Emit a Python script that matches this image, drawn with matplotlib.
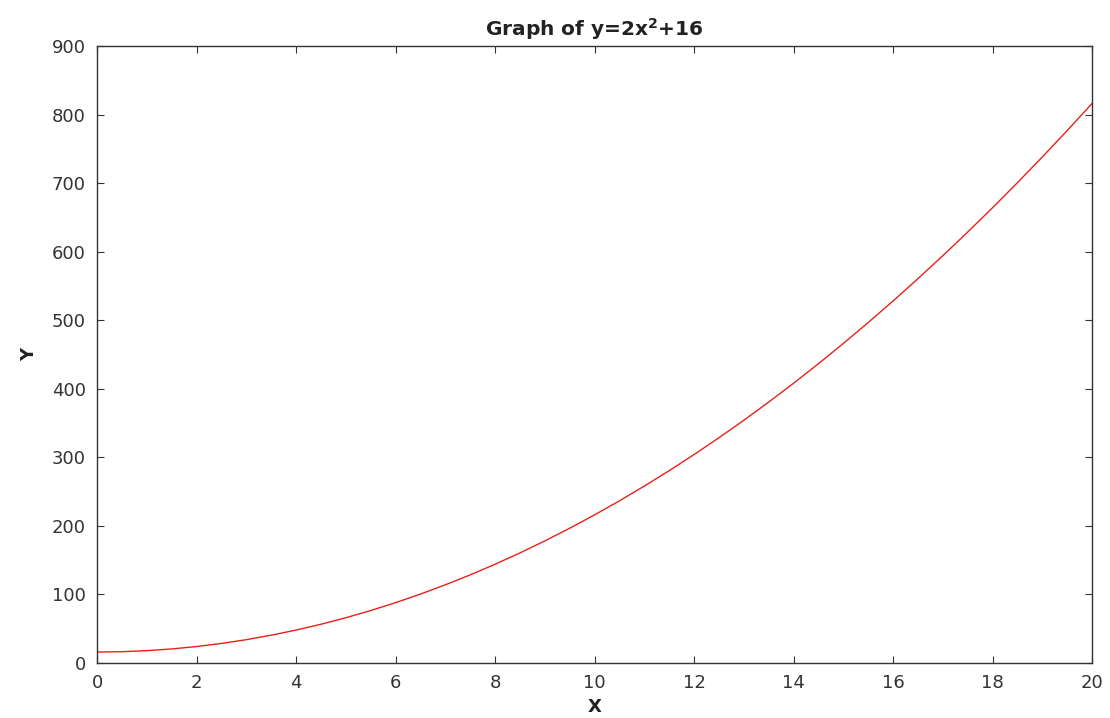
import matplotlib
matplotlib.use("Agg")
import matplotlib.pyplot as plt

plt.rcParams['font.family'] = ['DejaVu Sans']
plt.rcParams['mathtext.fontset'] = 'dejavusans'
plt.rcParams['mathtext.default'] = 'bf'

x_vals = [0, 0.5, 1, 1.5, 2, 2.5, 3, 3.5, 4, 4.5, 5, 5.5, 6, 6.5, 7, 7.5, 8, 8.5, 9, 9.5,
          10, 10.5, 11, 11.5, 12, 12.5, 13, 13.5, 14, 14.5, 15, 15.5, 16, 16.5, 17, 17.5,
          18, 18.5, 19, 19.5, 20]
y_vals = [16, 16.5, 18, 20.5, 24, 28.5, 34, 40.5, 48, 56.5, 66, 76.5, 88, 100.5, 114, 128.5,
          144, 160.5, 178, 196.5, 216, 236.5, 258, 280.5, 304, 328.5, 354, 380.5, 408, 436.5,
          466, 496.5, 528, 560.5, 594, 628.5, 664, 700.5, 738, 776.5, 816]
x_ticks = [0, 2, 4, 6, 8, 10, 12, 14, 16, 18, 20]
y_ticks = [0, 100, 200, 300, 400, 500, 600, 700, 800, 900]

fig = plt.figure(figsize=(11.1, 7.18), dpi=100)
ax = fig.add_axes([0.0874, 0.0766, 0.8964, 0.8594])
ax.plot(x_vals, y_vals, color='#e8201a', linewidth=1.0)
ax.set_xlim(0, 20)
ax.set_ylim(0, 900)
ax.set_xticks(x_ticks)
ax.set_yticks(y_ticks)
ax.tick_params(direction='in', top=True, right=True, length=5, width=0.8,
               labelsize=13, colors='#333333', pad=8)
for s in ax.spines.values():
    s.set_linewidth(1.0)
    s.set_color('#333333')
ax.set_title('Graph of y=2x$^{2}$+16', fontsize=14.5, fontweight='bold', pad=7, color='#222222')
ax.set_xlabel('X', fontsize=13, fontweight='bold', labelpad=4, color='#222222')
ax.set_ylabel('Y', fontsize=13, fontweight='bold', labelpad=10, color='#222222')
fig.savefig('out.png', dpi=100)
